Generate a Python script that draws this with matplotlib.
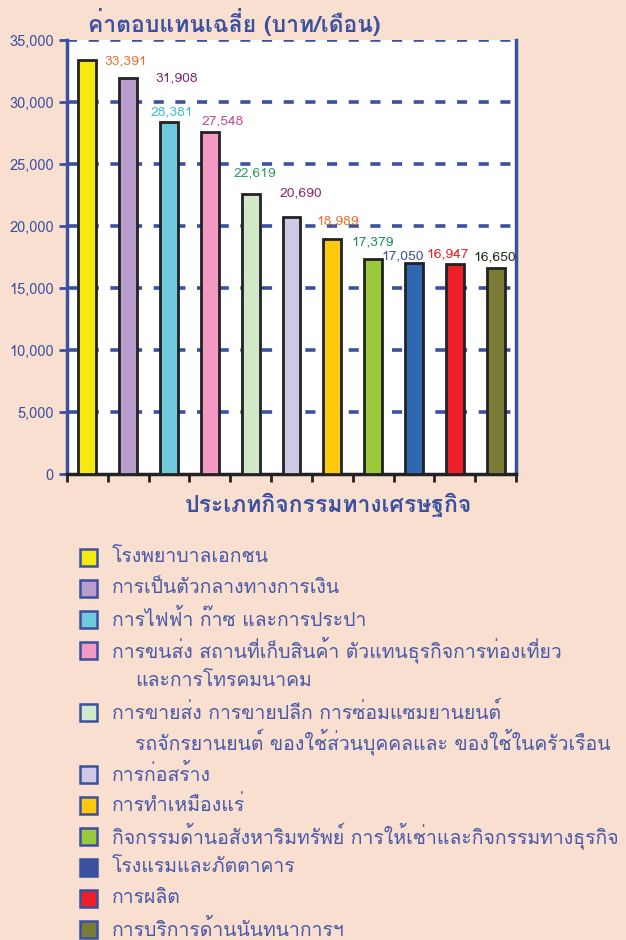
import numpy as np
import matplotlib
matplotlib.use("Agg")
import matplotlib.pyplot as plt
from matplotlib import font_manager
from matplotlib.ft2font import FT2Font
from matplotlib.patches import Rectangle

# ---------------------------- Chart Data ---------------------------- #
categories = [
    "โรงพยาบาลเอกชน",
    "การเป็นตัวกลางทางการเงิน",
    "การไฟฟ้า ก๊าซ และการประปา",
    "การขนส่ง สถานที่เก็บสินค้า ตัวแทนธุรกิจการท่องเที่ยว\nและการโทรคมนาคม",
    "การขายส่ง การขายปลีก การซ่อมแซมยานยนต์\nรถจักรยานยนต์ ของใช้ส่วนบุคคลและ ของใช้ในครัวเรือน",
    "การก่อสร้าง",
    "การทำเหมืองแร่",
    "กิจกรรมด้านอสังหาริมทรัพย์ การให้เช่าและกิจกรรมทางธุรกิจ",
    "โรงแรมและภัตตาคาร",
    "การผลิต",
    "การบริการด้านนันทนาการฯ",
]
values = [33391, 31908, 28381, 27548, 22619, 20690, 18989, 17379, 17050, 16947, 16650]
bar_colors = ["#f5e90f", "#b89ccb", "#6ecadc", "#f29ac3", "#d3e8c8", "#cecae6",
              "#ffc90e", "#9bc93c", "#2f68b0", "#ec2027", "#7a7b34"]
legend_colors = bar_colors[:8] + ["#3a50a0"] + bar_colors[9:]
label_colors = ["#f07030", "#7a2a70", "#40c0c8", "#c0509a", "#30a060", "#902a6a",
                "#f07030", "#20905a", "#4050a0", "#ec2027", "#203020"]
title = "ค่าตอบแทนเฉลี่ย (บาท/เดือน)"
xlabel = "ประเภทกิจกรรมทางเศรษฐกิจ"

# label offsets from bar top centre, in pixels (dx, dy up)
label_offsets = [(38, -1), (48, 0), (3, 10), (13, 11), (4, 20), (9, 24),
                 (5, 17), (-1, 16), (-11, 6), (-7, 10), (-1, 10)]

# ---------------------------- Font Setup ---------------------------- #
def has_thai(path):
    try:
        return 0x0E01 in FT2Font(path).get_charmap()
    except Exception:
        return False

thaiFamilies = []
for f in font_manager.fontManager.ttflist:
    if f.name not in thaiFamilies and has_thai(f.fname):
        thaiFamilies.append(f.name)
plt.rcParams['font.family'] = thaiFamilies + ['DejaVu Sans']

blue = "#3a50a0"
textBlue = "#4a5aa8"
background = "#f8dfd0"

# ---------------------------- Plot ---------------------------- #
dpi = 100
figure = plt.figure(figsize=(6.26, 9.4), dpi=dpi, facecolor=background)
ax = figure.add_axes([67/626, 1 - 474/940, 449/626, 434/940])
ax.set_facecolor("white")

x = np.arange(len(values))
ax.bar(x, values, width=0.44, color=bar_colors, edgecolor="#222222", linewidth=2, zorder=3)
ax.set_xlim(-0.5, len(values) - 0.5)
ax.set_ylim(0, 35000)

# Grid
ax.set_yticks(np.arange(0, 35001, 5000))
ax.set_yticklabels([f"{v:,}" for v in range(0, 35001, 5000)], color=blue, fontsize=10.5)
for yv in range(5000, 35001, 5000):
    ax.axhline(yv, color=blue, linestyle=(0, (2.8, 3.2)), linewidth=2.6, zorder=1)
ax.tick_params(axis='y', colors=blue, length=6, width=2, direction='out')
ax.set_xticks(np.arange(-0.5, len(values)), minor=False)
ax.set_xticklabels([])
ax.tick_params(axis='x', colors="#222222", length=6, width=2, direction='out')

for side in ['left', 'right']:
    ax.spines[side].set_color(blue)
    ax.spines[side].set_linewidth(2.5)
ax.spines['top'].set_visible(False)
ax.spines['bottom'].set_color("#222222")
ax.spines['bottom'].set_linewidth(2.5)

# Value labels
pt = 72 / dpi
for xi, v, c, (dx, dy) in zip(x, values, label_colors, label_offsets):
    ax.annotate(f"{v:,}", (xi, v), xytext=(dx * pt, dy * pt), textcoords="offset points",
                ha="center", va="center", color=c, fontsize=10, zorder=4)

# Titles
figure.text(88/626, 1 - 22/940, title, color=blue, fontsize=16.5, fontweight='bold',
            ha='left', va='center')
figure.text(328/626, 1 - 505/940, xlabel, color=blue, fontsize=16.5, fontweight='bold',
            ha='center', va='center')

# Legend
lineStep = 31.0
yPix = 557
for name, c in zip(categories, legend_colors):
    figure.patches.append(Rectangle((80/626, 1 - (yPix + 8.5)/940), 17/626, 17/940,
                                    transform=figure.transFigure, facecolor=c,
                                    edgecolor=blue, linewidth=1.8, figure=figure))
    lines = name.split("\n")
    for k, line in enumerate(lines):
        xPix = 112 if k == 0 else 135
        figure.text(xPix/626, 1 - (yPix + k*lineStep)/940, line,
                    color=textBlue, fontsize=14, ha='left', va='center')
    yPix += lineStep * len(lines)

plt.savefig("out.png", dpi=dpi, facecolor=background)
